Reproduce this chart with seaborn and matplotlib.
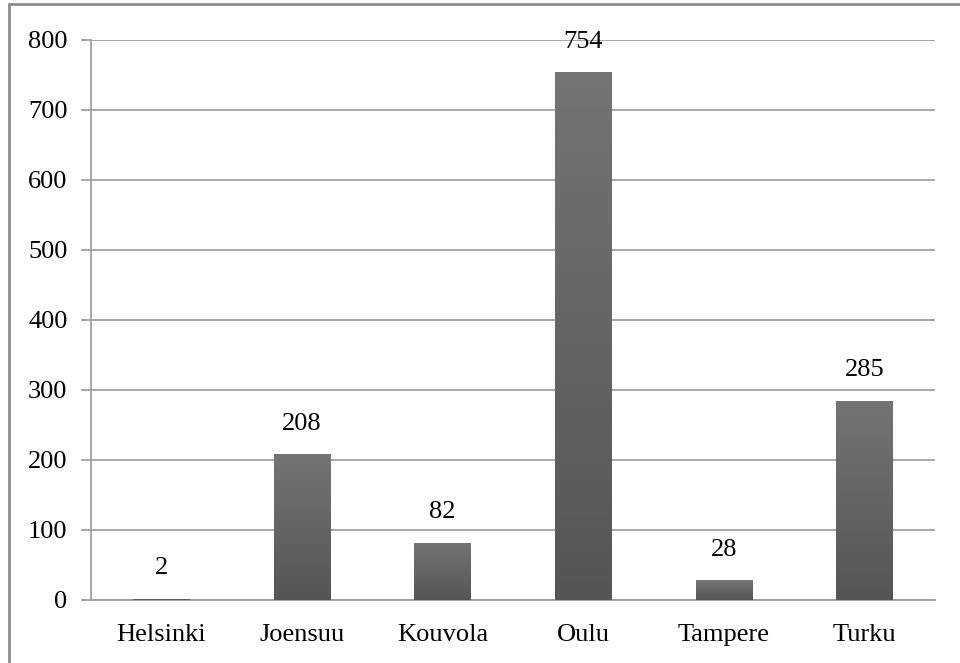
import matplotlib
matplotlib.use("Agg")
import matplotlib.pyplot as plt
import seaborn as sns
import numpy as np
import pandas as pd
from matplotlib.lines import Line2D

cities = ["Helsinki", "Joensuu", "Kouvola", "Oulu", "Tampere", "Turku"]
values = [2, 208, 82, 754, 28, 285]
y_ticks = [0, 100, 200, 300, 400, 500, 600, 700, 800]

df = pd.DataFrame({"city": cities, "value": values})

sns.set_theme(style="white")
plt.rcParams["font.family"] = ["Liberation Serif", "DejaVu Serif"]

fig = plt.figure(figsize=(9.6, 6.63), dpi=100)
ax = fig.add_axes([91/960, 63/663, (935-91)/960, (600-40)/663])

sns.barplot(data=df, x="city", y="value", ax=ax, color="#666666", width=0.405,
            saturation=1, zorder=3)

# gradient fill clipped to each bar
grad = np.linspace(0, 1, 256).reshape(-1, 1)
cmap = matplotlib.colors.LinearSegmentedColormap.from_list("g", ["#555555", "#747474"])
for p in ax.patches:
    x0, y0 = p.get_x(), p.get_y()
    w, h = p.get_width(), p.get_height()
    im = ax.imshow(grad, extent=[x0, x0 + w, y0, y0 + h], origin="lower",
                   cmap=cmap, aspect="auto", zorder=4)
    im.set_clip_path(p)
    p.set_edgecolor("none")

for i, v in enumerate(values):
    ax.annotate(str(v), (i, v), xytext=(0, 14), textcoords="offset points",
                ha="center", va="bottom", fontsize=19, color="black", zorder=6)

ax.set_xlim(-0.5, len(cities) - 0.5)
ax.set_ylim(0, 800)
ax.set_yticks(y_ticks)
ax.set_yticklabels([str(t) for t in y_ticks], fontsize=19)
ax.set_xticks(range(len(cities)))
ax.set_xticklabels(cities, fontsize=19)
ax.set_xlabel("")
ax.set_ylabel("")

ax.yaxis.grid(True, color="#a0a0a0", linewidth=1.3, zorder=0)
ax.set_axisbelow(True)

for s in ["top", "right"]:
    ax.spines[s].set_visible(False)
for s in ["left", "bottom"]:
    ax.spines[s].set_visible(True)
    ax.spines[s].set_color("#a0a0a0")
    ax.spines[s].set_linewidth(1.3)

# x ticks at category boundaries
ax.tick_params(axis="x", which="major", length=0, pad=17, colors="black")
ax.set_xticks(np.arange(-0.5, len(cities), 1.0), minor=True)
ax.tick_params(axis="x", which="minor", length=7, width=1.3, color="#a0a0a0", direction="out")
ax.tick_params(axis="y", which="major", length=7, width=1.3, color="#a0a0a0",
               direction="out", pad=10, labelcolor="black", left=True)

# outer chart border (left and top visible)
fig.add_artist(Line2D([9/960, 9/960], [0, 1 - 4/663], transform=fig.transFigure,
                      color="#8c8c8c", linewidth=2))
fig.add_artist(Line2D([9/960, 1], [1 - 4/663, 1 - 4/663], transform=fig.transFigure,
                      color="#8c8c8c", linewidth=2))

fig.savefig("out.png", dpi=100)
